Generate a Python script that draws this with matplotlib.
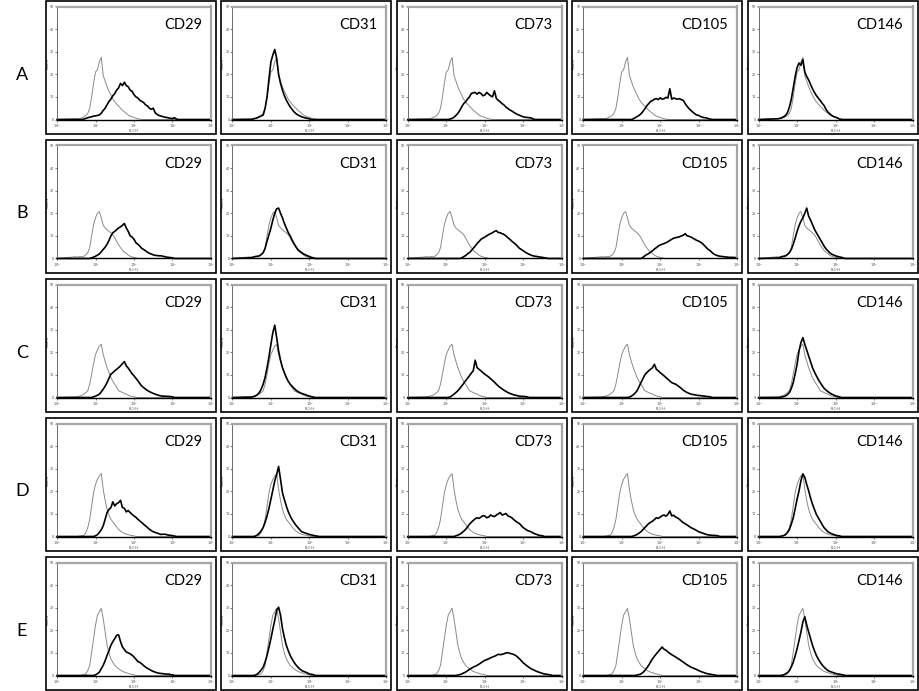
import numpy as np
import matplotlib
matplotlib.use("Agg")
import matplotlib.pyplot as plt
from matplotlib.patches import Rectangle

plt.rcParams['font.family'] = ['Lato', 'DejaVu Sans']

rows = ["A", "B", "C", "D", "E"]
markers = ["CD29", "CD31", "CD73", "CD105", "CD146"]

# log10 fluorescence bins (FL1-H), 10^0.5 .. 10^4, counts
log_bins = np.round(np.arange(0.5, 4.001, 0.05), 2)

# isotype controls (grey), one per sample row
iso_A = [0.4, 0.3, 0.5, 0.8, 1.2, 1.8, 2.7, 5, 10, 16, 21, 22, 25.5, 27.5, 19.5, 17, 14.5, 12.5,
         10.8, 9, 7.8, 6.8, 5.9, 5, 4.1, 3.4, 2.7, 2, 1.5, 1.2, 0.9, 0.6, 0.3, 0.2]
iso_B = [0.8, 0.6, 0.9, 0.7, 1, 1.6, 2.6, 4.8, 10, 15, 18, 20, 20.8, 18, 14.7, 13.5, 12.8, 12,
         11.4, 10.5, 9.2, 7.5, 6, 4.8, 3.6, 2.8, 2.2, 1.5, 1, 0.7, 0.5, 0.3]
iso_C = [0.3, 0.5, 0.7, 1, 1.5, 2.2, 3, 6, 10.3, 15, 19, 21, 22.8, 23.5, 19, 16, 13.2, 11,
         8.8, 7.2, 5.9, 4.5, 3, 2.6, 2.2, 1.8, 1.5, 1, 0.7, 0.5, 0.3]
iso_D = [0, 0, 0.2, 0.4, 0.6, 1.8, 4, 7.6, 13.5, 19.4, 23, 25.3, 26.8, 27.8, 20.9, 16, 12, 9.5,
         7.6, 6.5, 5.4, 4.2, 3.2, 2.4, 1.8, 1.4, 1, 0.8, 0.6, 0.4, 0.3]
iso_E = [0, 0, 0, 0.2, 0.4, 0.8, 2.2, 4.5, 10.4, 16.3, 22.3, 26.7, 28.2, 29.7, 25.2, 19.3, 13.4, 10,
         7.4, 5.8, 4.5, 3.7, 3, 2.4, 1.8, 1.5, 1.2, 0.9, 0.7, 0.5, 0.3]

# stained samples (black)
cd29_A = [0, 0, 0, 0, 0.2, 0.5, 0.8, 1, 1.2, 1.5, 1.6, 1.8, 2, 2.8, 4, 5, 6.5, 8, 9, 10.5, 11.5,
          13, 14, 16, 15, 16.5, 15, 14.5, 13, 12.5, 11, 10, 9.5, 8.5, 8, 7.5, 6.5, 6, 5, 4.5, 5,
          3, 2.2, 1.8, 1.5, 1.3, 1, 0.9, 0.7, 0.5, 0.4, 0.8, 0.2]
cd31_A = [0, 0.3, 0.5, 0.8, 1.2, 1.6, 2, 5, 10, 18, 25.5, 28.5, 31, 27, 20, 16, 13, 10.5, 8.6, 7,
          5.6, 4.5, 3.4, 2.6, 2, 1.6, 1.2, 0.9, 0.7, 0.5, 0.3]
cd73_A = [0] * 12 + [0.2, 0.5, 1, 1.8, 2.7, 4, 5.6, 7, 7.8, 9, 10, 11.5, 11.8, 12, 11.2, 12, 11.5,
                     10.5, 10.8, 12, 11.2, 10.5, 10, 12.7, 9.3, 8.5, 7.8, 7, 6.4, 5.5, 4.9, 4.2,
                     3.8, 3.2, 2.7, 2.2, 1.9, 1.5, 1.2, 1, 0.9, 0.8, 0.7, 0.3]
cd105_A = [0] * 16 + [0.3, 0.8, 1.3, 1.8, 2.5, 3.5, 4.7, 6, 7, 8, 8.4, 9, 9.2, 8.8, 9.6, 9, 9.2,
                      9.8, 9.5, 13.6, 9, 9.5, 9.2, 9, 9.2, 8.8, 8.4, 7, 5.8, 4.8, 4, 3.2, 2.5, 2,
                      1.8, 1.3, 1, 0.8, 0.7, 0.4, 0.2]
cd146_A = [0.3, 0.5, 0.8, 1.2, 1.8, 3, 5.5, 9, 14, 19, 23, 25, 24, 26.5, 21, 19, 17.5, 15.5, 13.6,
           12, 10.6, 9.5, 8.4, 7.2, 6.2, 4.5, 3.3, 2.5, 1.8, 1.3, 1, 0.7, 0.2]

cd29_B = [0] * 8 + [0.3, 0.6, 1, 1.5, 2, 3, 4, 5, 6.3, 8, 10, 11.4, 12, 12.8, 13.5, 14, 14.7, 15.5,
                    13.5, 12, 10, 9.5, 8.5, 7, 6.3, 5.5, 4.5, 4, 3.4, 2.8, 2.3, 2, 1.6, 1.4, 1.3,
                    1.2, 1.2, 1, 0.8, 0.6, 0.5, 0.4, 0.3]
cd31_B = [0.3, 0.6, 0.9, 1, 1.2, 1.8, 2.6, 4.5, 7.7, 10.5, 13.5, 17, 20, 22, 22.3, 20, 18, 15.5,
          13.5, 11.5, 10, 8.2, 6.6, 5.2, 4, 3.2, 2.6, 2, 1.6, 1.2, 0.9, 0.5, 0.3]
cd73_B = [0] * 18 + [0.3, 0.8, 1.3, 2, 2.6, 3.5, 4.5, 5.5, 6.6, 7.5, 8.5, 9, 9.5, 10, 10.6, 11,
                     11.4, 12, 12.3, 11.5, 11.4, 11, 10.6, 10, 9.2, 8.5, 7.7, 7, 6.3, 5.4, 4.5,
                     4, 3.4, 2.8, 2.3, 1.9, 1.5, 1.2, 1, 0.9, 0.7, 0.6, 0.5, 0.3, 0.2]
cd105_B = [0] * 21 + [0.5, 1.2, 1.7, 2.2, 2.8, 3.4, 4.2, 4.8, 5.5, 6, 6.3, 6.6, 7, 7.4, 8, 8.5, 9,
                      9.2, 9.4, 9.6, 10, 10.3, 11, 10, 9.8, 9.5, 9, 8.5, 8, 7.7, 7.2, 6.6, 5.7,
                      4.8, 4, 3.4, 2.6, 1.9, 1.5, 1.2, 1, 0.9, 0.8, 0.7, 0.6, 0.5, 0.5, 0.5, 0.4,
                      0.3]
cd146_B = [0.2, 0.4, 0.8, 1, 1.2, 1.8, 2.6, 4, 6.3, 9, 12, 14.5, 16.5, 18, 20, 22.3, 18.7, 17, 15,
           13, 11.4, 10, 8.5, 7, 5.5, 4.3, 3.4, 2.5, 1.9, 1.5, 1.2, 0.9, 0.7, 0.5, 0.3]

cd29_C = [0] * 9 + [0.3, 0.6, 1, 1.5, 2.5, 3.7, 5, 6.6, 8.5, 10.3, 11, 11.8, 12.5, 13.2, 14, 15,
                    15.9, 14, 13, 11.8, 10.5, 9.6, 8.5, 7.4, 6.2, 5.1, 4.4, 3.7, 3.1, 2.6, 2.2,
                    1.8, 1.5, 1.2, 0.9, 0.7, 0.6, 0.6, 0.5, 0.5, 0.4, 0.3]
cd31_C = [0.2, 0.4, 0.7, 1.3, 2.2, 3.8, 5.9, 9, 13.2, 18, 23.5, 28.7, 32, 26.5, 20.6, 16.5, 13.2,
          11, 8.8, 7.2, 5.9, 5, 4.1, 3.3, 2.6, 2.2, 1.8, 1.5, 1.2, 0.9, 0.6, 0.4, 0.2]
cd73_C = [0] * 12 + [0.3, 0.8, 1.5, 2.2, 3, 4, 5.1, 6.2, 7.4, 8.5, 9.6, 10.8, 11.8, 16.5, 13.2,
                     12.5, 11.8, 11, 10.3, 9.7, 9.1, 8.3, 7.6, 6.8, 5.9, 5.1, 4.4, 3.8, 3.2, 2.7,
                     2.2, 1.8, 1.5, 1.2, 1, 0.8, 0.6, 0.5, 0.5, 0.4, 0.3]
cd105_C = [0] * 14 + [0.2, 0.6, 1.2, 2, 3, 4.8, 6.6, 8.3, 10, 11, 11.8, 12.5, 13.2, 14.7, 12.5,
                      11.8, 11, 10.3, 9.6, 8.8, 8.1, 7.3, 6.6, 6.2, 5.9, 5.3, 4.7, 4, 3.2, 2.7,
                      2.2, 1.8, 1.5, 1.3, 1.2, 1, 0.9, 0.8, 0.7, 0.6, 0.5, 0.4, 0.3]
cd146_C = [0, 0.1, 0.2, 0.4, 0.7, 1.3, 2.2, 4, 6.6, 10.5, 14.7, 20.6, 24.3, 26.5, 23.5, 21, 18.4,
           15.8, 13.2, 11.3, 9.6, 8, 6.6, 5.3, 4.1, 3.3, 2.6, 2, 1.5, 1.1, 0.7, 0.5, 0.3]

cd29_D = [0] * 10 + [0.3, 0.8, 1.8, 3, 4.7, 7.6, 10.6, 12, 12.8, 15.3, 13.5, 14.5, 15, 16, 12.8,
                     12.5, 10.9, 11.5, 10.6, 9.8, 9.1, 8.5, 7.6, 6.9, 6.2, 5.4, 4.7, 4, 3.2, 2.6,
                     2.1, 1.8, 1.5, 1.2, 0.9, 1, 1, 0.8, 0.6, 0.5, 0.4, 0.2]
cd31_D = [0, 0, 0.2, 0.7, 1.5, 2.6, 4, 6.3, 9.1, 12.5, 16.5, 20.5, 24.6, 27.5, 31, 25.3, 19.4,
          16.3, 13.5, 11, 9.1, 7.5, 6.2, 5, 4, 3, 2.1, 1.8, 1.5, 1.2, 0.9, 0.7, 0.5, 0.3, 0.2]
cd73_D = [0] * 15 + [0.3, 0.6, 1, 1.6, 2.3, 3.1, 4.2, 5.4, 6.3, 7.1, 7.8, 8.3, 8, 8.6, 9.2, 9.1,
                     8.3, 8.6, 9.5, 9.1, 8.8, 9.5, 10, 10.6, 9.5, 9.8, 10.2, 9.1, 8.8, 8.3, 7.5,
                     6.8, 6.2, 5.7, 4.8, 3.9, 3.3, 2.7, 2.4, 2.1, 1.6, 1.2, 0.9, 0.6, 0.4, 0.3]
cd105_D = [0] * 16 + [0.2, 0.5, 0.9, 1.5, 2.1, 3, 3.9, 4.8, 5.7, 6.3, 6.8, 7.5, 8.3, 8, 8.6, 9.2,
                      9.5, 9, 9.8, 11.3, 9.1, 9.4, 8.6, 8.2, 7.6, 6.8, 6.1, 5.6, 5.1, 4.5, 3.9,
                      3.5, 3.1, 2.6, 2.1, 1.8, 1.5, 1.2, 0.9, 0.7, 0.6, 0.5, 0.5, 0.4, 0.3]
cd146_D = [0, 0, 0.2, 0.4, 0.9, 1.8, 3.1, 5.5, 8.3, 12.3, 16.5, 20.2, 24.7, 27.7, 26.2, 23, 20.2,
           17, 14.3, 12, 9.8, 8.3, 6.8, 5.3, 3.9, 3, 2.1, 1.6, 1.2, 0.9, 0.6, 0.4, 0.3]

cd29_E = [0] * 10 + [0.3, 0.8, 1.5, 3, 4.5, 6.5, 8.9, 11, 13.4, 15, 16.3, 17.8, 18, 15, 12.6,
                     11.5, 10.4, 10, 9.6, 9, 8.2, 7.2, 6.2, 5.8, 5.2, 4.4, 3.7, 3.2, 2.7, 2.2, 1.8,
                     1.5, 1.2, 1, 0.9, 0.8, 0.7, 0.6, 0.6, 0.4, 0.3]
cd31_E = [0, 0, 0.2, 0.7, 1.5, 2.5, 3.7, 6, 8.9, 12.5, 16.3, 20.5, 24.5, 28.9, 30.2, 26.7, 20.8,
          16.8, 13.4, 11, 8.9, 7.3, 5.9, 4.7, 3.7, 2.9, 2.2, 1.8, 1.5, 1.1, 0.7, 0.5, 0.4]
cd73_E = [0] * 16 + [0.2, 0.4, 0.7, 1.1, 1.5, 2.1, 2.7, 3.2, 3.7, 4.1, 4.5, 5, 5.6, 6.2, 6.7, 7,
                     7.4, 7.8, 8.2, 8.5, 8.9, 9.4, 9.2, 9.4, 9.6, 10, 10.1, 9.8, 9.6, 9.3, 8.9,
                     8.2, 7.4, 6.5, 5.6, 4.9, 4.2, 3.6, 3, 2.6, 2.2, 1.8, 1.5, 1.2, 0.9, 0.7,
                     0.6, 0.4, 0.3]
cd105_E = [0] * 18 + [0.2, 0.4, 0.7, 1.3, 2.2, 3.3, 4.5, 6, 7.4, 8.5, 9.6, 10.6, 11.6, 12.6, 11.6,
                      11.2, 10.4, 9.8, 9.2, 8.7, 8.2, 7.6, 7.1, 6.5, 5.9, 5.3, 4.7, 4.2, 3.7,
                      3.3, 3, 2.6, 2.2, 1.8, 1.5, 1.2, 0.9, 0.7, 0.6, 0.4, 0.3]
cd146_E = [0, 0, 0.1, 0.3, 0.7, 1.3, 2.2, 3.8, 5.9, 8.7, 11.9, 15.5, 19.3, 23.7, 26, 22.3, 19.3,
           16.3, 13.4, 11, 8.9, 7.3, 5.9, 4.7, 3.7, 2.9, 2.2, 1.8, 1.5, 1.2, 0.9, 0.7, 0.6, 0.4,
           0.3]

isotype = {"A": iso_A, "B": iso_B, "C": iso_C, "D": iso_D, "E": iso_E}
stained = {
    "A": [cd29_A, cd31_A, cd73_A, cd105_A, cd146_A],
    "B": [cd29_B, cd31_B, cd73_B, cd105_B, cd146_B],
    "C": [cd29_C, cd31_C, cd73_C, cd105_C, cd146_C],
    "D": [cd29_D, cd31_D, cd73_D, cd105_D, cd146_D],
    "E": [cd29_E, cd31_E, cd73_E, cd105_E, cd146_E],
}


def curve(vals):
    # pad the empty upper channels with zero counts, start the trace at 10^0
    v = np.pad(np.asarray(vals, float), (0, len(log_bins) - len(vals)))
    return np.concatenate([[1.0], 10 ** log_bins]), np.concatenate([[0.0], v])


W, H = 919, 691
fig = plt.figure(figsize=(W / 100, H / 100), dpi=100)

for r, row in enumerate(rows):
    top = 0.5 + 139 * r
    fig.text(22 / W, 1 - (top + 74) / H, row, fontsize=13, ha="center", va="center")
    for c, marker in enumerate(markers):
        left = 46 + 175.4 * c
        # outer frame of each panel
        fig.add_artist(Rectangle((left / W, 1 - (top + 133) / H), 170 / W, 133 / H,
                                 transform=fig.transFigure, fill=False, ec="black", lw=1.2))
        ax = fig.add_axes([(left + 11) / W, 1 - (top + 119) / H, 154 / W, 113 / H])

        gx, gy = curve(isotype[row])
        bx, by = curve(stained[row][c])
        ax.plot(gx, gy, color="#8a8a8a", lw=0.7)
        ax.plot(bx, by, color="black", lw=1.2, clip_on=False)

        ax.set_xscale("log")
        ax.set_xlim(1, 1e4)
        ax.set_ylim(0, 50)
        ax.set_xticks([1, 10, 100, 1000, 10000])
        ax.set_xticklabels(["$10^0$", "$10^1$", "$10^2$", "$10^3$", "$10^4$"])
        ax.minorticks_off()
        ax.set_yticks([0, 10, 20, 30, 40, 50])
        ax.tick_params(direction="out", length=1.5, width=0.5, pad=0.5, labelsize=2.5,
                       colors="#444444")
        ax.set_xlabel("FL1-H", fontsize=2.5, color="#444444")
        ax.xaxis.set_label_coords(0.5, -0.088)
        ax.set_ylabel("Counts", fontsize=2.5, labelpad=0.5, color="#444444")

        for s in ["top", "right"]:
            ax.spines[s].set_color("#a6a6a6")
            ax.spines[s].set_linewidth(1.6)
        ax.spines["left"].set_color("#555555")
        ax.spines["left"].set_linewidth(0.6)
        ax.spines["bottom"].set_color("black")
        ax.spines["bottom"].set_linewidth(1.0)

        ax.text(0.94, 0.84, marker, transform=ax.transAxes, ha="right", va="center",
                fontsize=10.5)

fig.savefig("out.png", dpi=100)
